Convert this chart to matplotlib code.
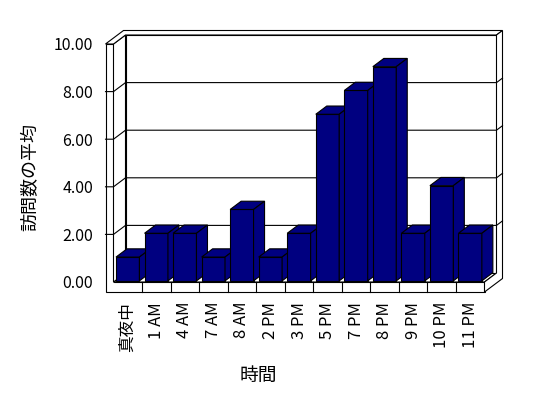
import matplotlib
matplotlib.use("Agg")
import matplotlib.pyplot as plt
from matplotlib.patches import Polygon

plt.rcParams["font.family"] = ["Noto Sans CJK JP", "DejaVu Sans"]

# Data
categories = ["真夜中", "1 AM", "4 AM", "7 AM", "8 AM", "2 PM", "3 PM",
              "5 PM", "7 PM", "8 PM", "9 PM", "10 PM", "11 PM"]
visits = [1, 2, 2, 1, 3, 1, 2, 7, 8, 9, 2, 4, 2]
y_ticks = [0, 2, 4, 6, 8, 10]
x_title = "時間"
y_title = "訪問数の平均"

# Layout (pixels of a 548x398 canvas)
W, H = 548, 398
AX_L, AX_R, AX_T, AX_B = 113.5, 484.5, 44.0, 282.0
N = len(categories)
YMAX = 10
PX_X = (AX_R - AX_L) / N
PX_Y = (AX_B - AX_T) / YMAX

# oblique depth direction (screen px per depth px)
DX, DY = 1.0, 0.75
D_BACK = 12.0      # depth of back wall inner face
D_OUT = 18.0       # depth of back wall outer face
WALL = 8.0         # left wall thickness (px)
FLOOR = 10.0       # floor thickness (px)
BAR_OFF, BAR_W = 0.035, 0.82
BAR_D0, BAR_D1 = 1.5, 12.5

BAR_COLOR = "#000080"
LW = 0.8


def P(x, y, d=0.0, ox=0.0, oy=0.0):
    """data point pushed back by depth d and nudged by ox/oy screen px"""
    return (x + (d * DX + ox) / PX_X, y + (d * DY + oy) / PX_Y)


def face(ax, pts, fc="white", z=1):
    ax.add_patch(Polygon(pts, closed=True, facecolor=fc, edgecolor="black",
                         linewidth=LW, zorder=z, clip_on=False, joinstyle="miter"))


fig = plt.figure(figsize=(W / 100, H / 100), dpi=100)
ax = fig.add_axes([AX_L / W, 1 - AX_B / H, (AX_R - AX_L) / W, (AX_B - AX_T) / H])
ax.set_xlim(0, N)
ax.set_ylim(0, YMAX)
for s in ax.spines.values():
    s.set_visible(False)

# walls and floor
face(ax, [P(0, 0, 0, -WALL, -FLOOR), P(N, 0, 0, 0, -FLOOR), P(N, 0), P(0, 0),
          P(0, YMAX), P(0, YMAX, 0, -WALL)])
face(ax, [P(0, 0), P(N, 0), P(N, 0, D_BACK), P(0, 0, D_BACK)])
face(ax, [P(0, 0), P(0, YMAX), P(0, YMAX, D_BACK), P(0, 0, D_BACK)])
face(ax, [P(0, 0, D_BACK), P(N, 0, D_BACK), P(N, YMAX, D_BACK), P(0, YMAX, D_BACK)])
face(ax, [P(0, YMAX, 0, -WALL), P(0, YMAX), P(0, YMAX, D_BACK), P(N, YMAX, D_BACK),
          P(N, YMAX, D_OUT), P(0, YMAX, D_OUT, -WALL)])
face(ax, [P(N, 0, 0, 0, -FLOOR), P(N, 0), P(N, 0, D_BACK), P(N, YMAX, D_BACK),
          P(N, YMAX, D_OUT), P(N, 0, D_OUT, 0, -FLOOR)])

# gridlines wrapping the walls
for v in y_ticks[1:-1]:
    pts = [P(0, v, 0, -WALL), P(0, v), P(0, v, D_BACK), P(N, v, D_BACK), P(N, v, D_OUT)]
    ax.plot([p[0] for p in pts], [p[1] for p in pts], color="black", lw=LW,
            zorder=2, clip_on=False)

# category separators on the floor front
for k in range(1, N):
    a, b = P(k, 0), P(k, 0, 0, 0, -FLOOR)
    ax.plot([a[0], b[0]], [a[1], b[1]], color="black", lw=LW, zorder=2, clip_on=False)

# 3D bars
for i, v in enumerate(visits):
    x0, x1 = i + BAR_OFF, i + BAR_OFF + BAR_W
    z = 3 + i
    face(ax, [P(x0, 0, BAR_D0), P(x1, 0, BAR_D0), P(x1, v, BAR_D0), P(x0, v, BAR_D0)],
         BAR_COLOR, z)
    face(ax, [P(x0, v, BAR_D0), P(x1, v, BAR_D0), P(x1, v, BAR_D1), P(x0, v, BAR_D1)],
         BAR_COLOR, z)
    face(ax, [P(x1, 0, BAR_D0), P(x1, 0, BAR_D1), P(x1, v, BAR_D1), P(x1, v, BAR_D0)],
         BAR_COLOR, z)

# ticks and labels
ax.set_yticks(y_ticks, labels=[f"{v:.2f}" for v in y_ticks])
ax.set_xticks([i + 0.5 for i in range(N)], labels=categories, rotation=90)
ax.tick_params(axis="y", length=0, pad=14.8, labelsize=11.5)
ax.tick_params(axis="x", length=0, pad=14.4, labelsize=12)

ax.set_ylabel(y_title, fontsize=13)
ax.yaxis.set_label_coords(-0.2, 0.44)
ax.set_xlabel(x_title, fontsize=13.5)
ax.xaxis.set_label_coords(0.39, -0.35)

fig.savefig("out.png", dpi=100)
